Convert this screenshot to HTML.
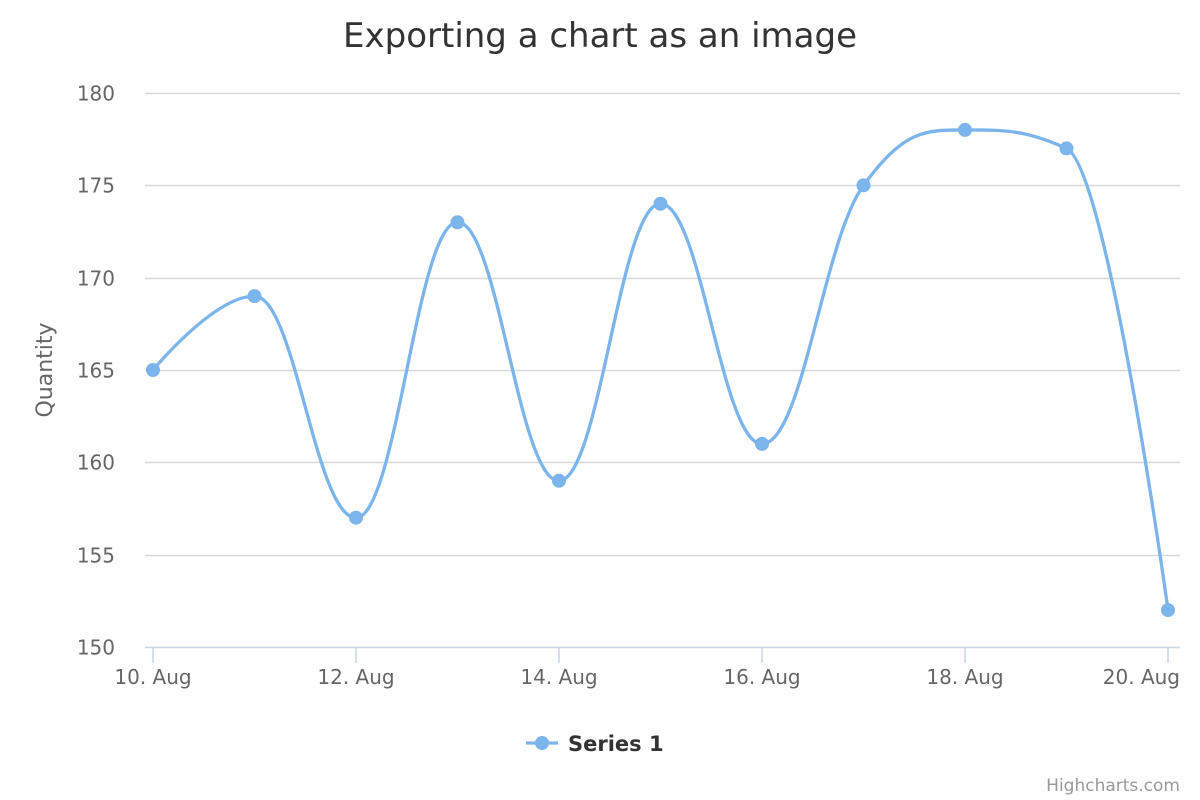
<!DOCTYPE html>
<html><head><meta charset="utf-8"><style>
html,body{margin:0;padding:0;background:#fff;}
svg{display:block;font-family:"DejaVu Sans","Liberation Sans",sans-serif;}
</style></head><body>
<svg id="chart" width="1200" height="800" viewBox="0 0 1200 800">
<rect width="1200" height="800" fill="#fff"/>
<text x="600" y="47" text-anchor="middle" font-size="34" fill="#333">Exporting a chart as an image</text>
<text transform="translate(52,370) rotate(-90)" text-anchor="middle" font-size="22" fill="#666">Quantity</text>
<g id="grid"></g>
<g id="ylabels"></g>
<g id="xaxis"></g>
<g id="series"></g>
<g>
<line x1="526" y1="743" x2="558" y2="743" stroke="#7cb5ec" stroke-width="3.3"/>
<circle cx="542" cy="743" r="7" fill="#7cb5ec"/>
<text x="568" y="751" font-size="21" font-weight="bold" fill="#333">Series 1</text>
</g>
<text x="1180" y="791" text-anchor="end" font-size="17" fill="#999">Highcharts.com</text>
</svg>
<script>
const categories = ["10. Aug","11. Aug","12. Aug","13. Aug","14. Aug","15. Aug","16. Aug","17. Aug","18. Aug","19. Aug","20. Aug"];
const values = [165,169,157,173,159,174,161,175,178,177,152];
const yTicks = [150,155,160,165,170,175,180];
const xTickIdx = [0,2,4,6,8,10];

const NS="http://www.w3.org/2000/svg";
const X0=153,X1=1168,Y0=647,Y1=93,YMIN=150,YMAX=180;
const xs=i=>X0+(X1-X0)*i/(categories.length-1);
const ys=v=>Y0-(v-YMIN)/(YMAX-YMIN)*(Y0-Y1);
function mk(tag,attrs,parent){const e=document.createElementNS(NS,tag);for(const k in attrs)e.setAttribute(k,attrs[k]);parent.appendChild(e);return e;}

const grid=document.getElementById('grid'),yl=document.getElementById('ylabels'),xa=document.getElementById('xaxis'),sg=document.getElementById('series');
yTicks.forEach(t=>{
  const y=Math.round(ys(t))+0.5;
  if(t!==YMIN){const l=mk('line',{x1:145,x2:1180,y1:y,y2:y,stroke:'#d8d8d8','stroke-width':1.6},grid);
  
  }
  const tx=mk('text',{x:115,y:y+7,'text-anchor':'end','font-size':20,fill:'#666'},yl);
  tx.textContent=t;
  
  
});
const ax=mk('line',{x1:145,x2:1180,y1:Y0+0.5,y2:Y0+0.5,stroke:'#ccd6eb','stroke-width':1.6},xa);


xTickIdx.forEach((i,k)=>{
  const x=xs(i);
  const tk=mk('line',{x1:x,x2:x,y1:Y0,y2:Y0+16,stroke:'#ccd6eb','stroke-width':1.6},xa);
  
  
  const last=k===xTickIdx.length-1;
  const tx=mk('text',{x:last?1180:x,y:684,'text-anchor':last?'end':'middle','font-size':20,fill:'#666'},xa);
  tx.textContent=categories[i];
  
  
});

const pts=values.map((v,i)=>({x:xs(i),y:ys(v)}));
const sm=1.5,den=2.5;
const ctrl=pts.map((p,i)=>{
  if(i===0||i===pts.length-1)return {lx:p.x,ly:p.y,rx:p.x,ry:p.y};
  const a=pts[i-1],b=pts[i+1];
  let lx=(sm*p.x+a.x)/den,ly=(sm*p.y+a.y)/den,rx=(sm*p.x+b.x)/den,ry=(sm*p.y+b.y)/den;
  const c=((ry-ly)*(rx-p.x))/(rx-lx)+p.y-ry;ly+=c;ry+=c;
  if(ly>a.y&&ly>p.y){ly=Math.max(a.y,p.y);ry=2*p.y-ly;}else if(ly<a.y&&ly<p.y){ly=Math.min(a.y,p.y);ry=2*p.y-ly;}
  if(ry>b.y&&ry>p.y){ry=Math.max(b.y,p.y);ly=2*p.y-ry;}else if(ry<b.y&&ry<p.y){ry=Math.min(b.y,p.y);ly=2*p.y-ry;}
  return {lx,ly,rx,ry};
});
let d='M'+pts[0].x+' '+pts[0].y;
for(let i=1;i<pts.length;i++){d+=' C'+ctrl[i-1].rx+' '+ctrl[i-1].ry+' '+ctrl[i].lx+' '+ctrl[i].ly+' '+pts[i].x+' '+pts[i].y;}
const path=mk('path',{d:d,fill:'none',stroke:'#7cb5ec','stroke-width':3.3,'stroke-linejoin':'round','stroke-linecap':'round'},sg);


pts.forEach((p,i)=>{
  const c=mk('circle',{cx:p.x,cy:p.y,r:7,fill:'#7cb5ec'},sg);
  
  
});
</script>
</body></html>
